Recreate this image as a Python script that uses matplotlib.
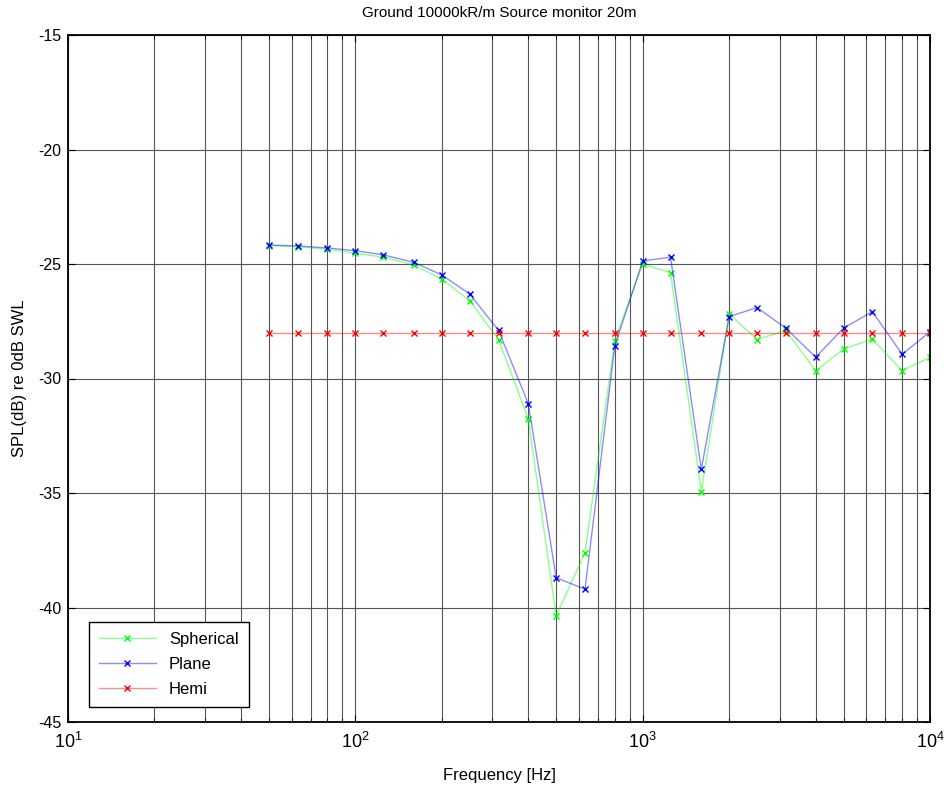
import matplotlib
matplotlib.use("Agg")
import matplotlib.pyplot as plt
from matplotlib.ticker import LogLocator

plt.rcParams['font.family'] = ['Liberation Sans', 'DejaVu Sans']
plt.rcParams['mathtext.default'] = 'regular'
plt.rcParams['axes.unicode_minus'] = False

freq = [50, 63, 80, 100, 125, 160, 200, 250, 315, 400, 500, 630, 800,
        1000, 1250, 1600, 2000, 2500, 3150, 4000, 5000, 6300, 8000, 10000]
spherical = [-24.2, -24.25, -24.35, -24.53, -24.7, -25.04, -25.66, -26.6, -28.3,
             -31.77, -40.37, -37.6, -28.35, -25.0, -25.38, -34.94, -27.18, -28.3,
             -27.9, -29.66, -28.71, -28.28, -29.66, -29.07]
plane = [-24.17, -24.21, -24.3, -24.42, -24.6, -24.93, -25.48, -26.31, -27.9,
         -31.1, -38.7, -39.2, -28.57, -24.87, -24.7, -33.97, -27.3, -26.9,
         -27.8, -29.07, -27.8, -27.08, -28.94, -27.96]
hemi = [-28.0] * len(freq)

fig = plt.figure(figsize=(9.44, 7.89), dpi=100)
ax = fig.add_axes([68/944, 1-722/789, (930-68)/944, (722-35)/789])

series = [("Spherical", spherical, (0, 1, 0)), ("Plane", plane, (0, 0, 1)),
          ("Hemi", hemi, (1, 0, 0))]
for name, vals, c in series:
    ax.plot(freq, vals, color=c + (0.45,), lw=1.0, marker='x', ms=5,
            mec=c, mew=1.0, label=name)

ax.set_xscale('log')
ax.set_xlim(10, 1e4)
ax.set_ylim(-45, -15)
ax.set_yticks([-45, -40, -35, -30, -25, -20, -15])
ax.xaxis.set_major_locator(LogLocator(base=10, numticks=10))
ax.xaxis.set_minor_locator(LogLocator(base=10, subs=range(2, 10), numticks=20))
ax.grid(True, which='both', axis='x', color='#555555', lw=0.8)
ax.grid(True, which='major', axis='y', color='#555555', lw=0.8)
ax.set_axisbelow(True)
ax.tick_params(which='both', direction='in', top=True, right=True)
ax.tick_params(axis='y', labelsize=11.5, pad=5)
ax.tick_params(axis='x', labelsize=13, pad=7)
ax.tick_params(which='major', length=5)
ax.tick_params(which='minor', length=3)
for s in ax.spines.values():
    s.set_linewidth(1.3)

ax.set_title("Ground 10000kR/m Source monitor 20m", fontsize=11, pad=13)
ax.set_xlabel("Frequency [Hz]", fontsize=12, labelpad=12)
ax.set_ylabel("SPL(dB) re 0dB SWL", fontsize=12, labelpad=8)

leg = ax.legend(loc='lower left', bbox_to_anchor=(21/862, 15/687), fontsize=12,
                fancybox=False, edgecolor='black', framealpha=1,
                handlelength=3.4, labelspacing=0.6, borderpad=0.6,
                borderaxespad=0)
leg.get_frame().set_linewidth(1.0)

fig.savefig("out.png", dpi=100)
